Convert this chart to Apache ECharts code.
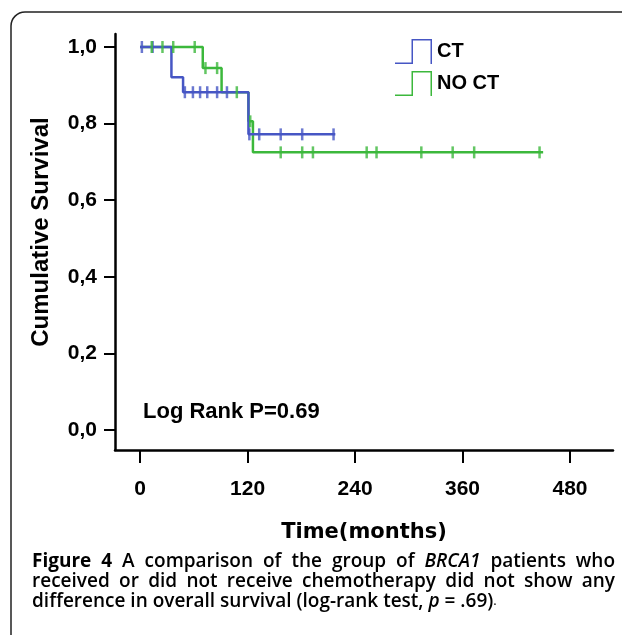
<!DOCTYPE html>
<html>
<head>
<meta charset="utf-8">
<script src="https://cdn.jsdelivr.net/npm/echarts@6/dist/echarts.min.js"></script>
<style>
html, body { margin: 0; padding: 0; background: #fff; }
#main { width: 622px; height: 635px; }
</style>
</head>
<body>
<div id="main"></div>
<script>
var chart = echarts.init(document.getElementById('main'))

// Kaplan-Meier steps: time (months) and cumulative survival
var ctTime = [0, 35, 48, 121, 218]
var ctSurv = [1, 0.921, 0.882, 0.772, 0.772]
var noCtTime = [0, 70, 91, 121, 126, 450]
var noCtSurv = [1, 0.945, 0.882, 0.806, 0.725, 0.725]

// censored cases
var ctCensTime = [2, 14, 50, 59, 67, 75, 86, 97, 122, 133, 157, 181, 216]
var ctCensSurv = [1, 1, 0.882, 0.882, 0.882, 0.882, 0.882, 0.882, 0.772, 0.772, 0.772, 0.772, 0.772]
var noCtCensTime = [13, 25, 37, 61, 73, 86, 108, 123, 157, 181, 193, 253, 264, 314, 349, 373, 446]
var noCtCensSurv = [1, 1, 1, 1, 0.945, 0.945, 0.882, 0.806, 0.725, 0.725, 0.725, 0.725, 0.725, 0.725, 0.725, 0.725, 0.725]

var xTicks = [0, 120, 240, 360, 480]
var yTicks = [0, 0.2, 0.4, 0.6, 0.8, 1.0]
var groups = ['CT', 'NO CT']

var blue = '#4656c4'
var green = '#3cb83c'

function pairs(xs, ys) {
    return xs.map(function (x, i) { return [x, ys[i]] })
}

// step icon for the legend, drawn as a thin outline
var stepIcon = 'path://M0,23.5 L16.5,23.5 L16.5,0 L37,0 L37,25 L35.5,25 L35.5,1.5 L18,1.5 L18,25 L0,25 Z'

var axisFont = 'Liberation Sans, Arial, sans-serif'

// caption: first two lines are justified, last one is not
var capLeft = 32, capRight = 615, capTop = 552, capLine = 20
var capStyles = {
    b: 'bold 19px "Open Sans"',
    n: '600 19px "Open Sans"',
    i: 'italic 600 19px "Open Sans"'
}
var capLine1 = [['Figure', 'b'], ['4', 'b'], ['A'], ['comparison'], ['of'], ['the'], ['group'], ['of'], ['BRCA1', 'i'], ['patients'], ['who']]
var capLine2 = 'received or did not receive chemotherapy did not show any'.split(' ').map(function (w) { return [w] })

var ctx = document.createElement('canvas').getContext('2d')
function justify(words, top) {
    var widths = words.map(function (w) {
        ctx.font = capStyles[w[1] || 'n']
        return ctx.measureText(w[0]).width
    })
    var sum = widths.reduce(function (a, b) { return a + b }, 0)
    var gap = (capRight - capLeft - sum) / (words.length - 1)
    var x = capLeft
    return words.map(function (w, i) {
        var el = {
            type: 'text',
            left: x,
            top: top,
            style: { text: w[0], font: capStyles[w[1] || 'n'], fill: '#000' }
        }
        x += widths[i] + gap
        return el
    })
}

var graphics = [
    {
        type: 'rect',
        shape: { x: 11, y: 12, width: 700, height: 700, r: 14 },
        style: { fill: 'none', stroke: '#222', lineWidth: 1.5 },
        silent: true
    },
    {
        // y axis title
        type: 'text',
        x: 41,
        y: 232,
        rotation: Math.PI / 2,
        style: {
            text: 'Cumulative Survival',
            font: 'bold 24px Liberation Sans, Arial, sans-serif',
            fill: '#000',
            align: 'center',
            verticalAlign: 'middle'
        }
    },
    {
        type: 'text',
        left: 143,
        top: 401,
        style: {
            text: 'Log Rank P=0.69',
            font: 'bold 22px Liberation Sans, Arial, sans-serif',
            fill: '#000'
        }
    },
    {
        type: 'text',
        left: capLeft,
        top: capTop + 2 * capLine,
        style: {
            text: '{n|difference in overall survival (log-rank test, }{i|p}{n| = .69)}{s|.}',
            rich: {
                n: { fontFamily: 'Open Sans', fontWeight: 600, fontSize: 19, fill: '#000' },
                i: { fontFamily: 'Open Sans', fontWeight: 600, fontStyle: 'italic', fontSize: 19, fill: '#000' },
                s: { fontFamily: 'Open Sans', fontWeight: 'normal', fontSize: 13, fill: '#000' }
            }
        }
    }
].concat(justify(capLine1, capTop), justify(capLine2, capTop + capLine))

var option = {
    animation: false,
    grid: { left: 115, top: 34, right: 9, bottom: 185 },
    legend: {
        left: 395,
        top: 39,
        orient: 'vertical',
        padding: 0,
        itemWidth: 37,
        itemHeight: 25,
        itemGap: 7,
        textStyle: { fontFamily: axisFont, fontWeight: 'bold', fontSize: 20, color: '#000' },
        itemStyle: { borderWidth: 0 },
        data: [
            { name: groups[0], icon: stepIcon, itemStyle: { color: blue, borderWidth: 0 } },
            { name: groups[1], icon: stepIcon, itemStyle: { color: green, borderWidth: 0 } }
        ]
    },
    xAxis: {
        type: 'value',
        min: -28,
        max: 528,
        name: 'Time(months)',
        nameLocation: 'middle',
        nameGap: 72,
        nameTextStyle: { fontFamily: 'DejaVu Sans', fontWeight: 'bold', fontSize: 21, color: '#000' },
        axisLine: { show: true, onZero: false, lineStyle: { color: '#000', width: 2.5 } },
        axisTick: { show: true, length: 13, customValues: xTicks, lineStyle: { color: '#000', width: 2 } },
        axisLabel: {
            customValues: xTicks,
            margin: 29,
            fontFamily: axisFont, fontWeight: 'bold', fontSize: 21, color: '#000'
        },
        splitLine: { show: false }
    },
    yAxis: {
        type: 'value',
        min: -0.052,
        max: 1.034,
        axisLine: { show: true, onZero: false, lineStyle: { color: '#000', width: 2.5 } },
        axisTick: { show: true, length: 11, customValues: yTicks, lineStyle: { color: '#000', width: 2 } },
        axisLabel: {
            customValues: yTicks,
            margin: 18,
            fontFamily: axisFont, fontWeight: 'bold', fontSize: 21, color: '#000',
            formatter: function (v) { return v.toFixed(1).replace('.', ',') }
        },
        splitLine: { show: false }
    },
    graphic: graphics,
    series: [
        {
            name: groups[0],
            type: 'line',
            step: 'end',
            showSymbol: false,
            color: blue,
            lineStyle: { color: blue, width: 2.5 },
            data: pairs(ctTime, ctSurv),
            z: 3
        },
        {
            name: groups[1],
            type: 'line',
            step: 'end',
            showSymbol: false,
            color: green,
            lineStyle: { color: green, width: 2.5 },
            data: pairs(noCtTime, noCtSurv),
            z: 2
        },
        {
            name: 'CT censored',
            type: 'scatter',
            symbol: 'rect',
            symbolSize: [2.5, 12],
            itemStyle: { color: blue },
            data: pairs(ctCensTime, ctCensSurv),
            z: 4
        },
        {
            name: 'NO CT censored',
            type: 'scatter',
            symbol: 'rect',
            symbolSize: [2.5, 12],
            itemStyle: { color: green },
            data: pairs(noCtCensTime, noCtCensSurv),
            z: 4
        }
    ]
}

chart.setOption(option, true)
</script>
</body>
</html>
